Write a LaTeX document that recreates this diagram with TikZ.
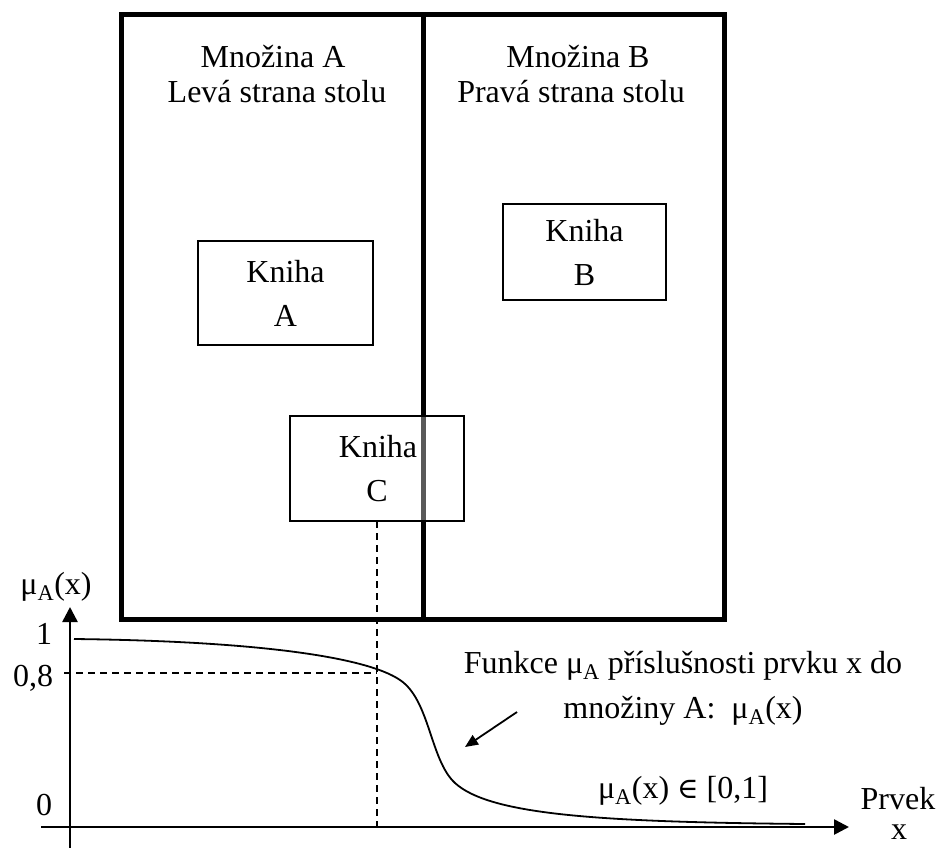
\documentclass[tikz,border=0pt]{standalone}
\usepackage{fontspec}
\setmainfont{Liberation Serif}
\newfontfamily\symbolfont{DejaVu Serif}
\usetikzlibrary{arrows.meta}
\newcommand\muA{μ\textsubscript{A}}
\begin{document}
\begin{tikzpicture}[x=1pt,y=-1pt,
  every node/.style={inner sep=0pt, outer sep=0pt},
  txt/.style={font=\fontsize{32}{44}\selectfont, align=center},
  frameline/.style={line width=5pt},
  bookbox/.style={draw, line width=1.3pt, txt},
  axis/.style={line width=2.6pt, -{Triangle[length=15pt,width=15pt]}},
  guide/.style={line width=1.8pt, dash pattern=on 7pt off 5pt},
  curve/.style={line width=1.8pt},
  pointer/.style={line width=1.8pt, -{Triangle[length=13pt,width=11pt]}}]
\useasboundingbox (0,0) rectangle (943,847);

% table: two halves
\draw[frameline] (121,14) rectangle (724,619);
\draw[frameline] (423,14) -- (423,619);

\node[txt, anchor=base] (setA)  at (273,67)  {Množina A};
\node[txt, anchor=base] (sideA) at (277,102) {Levá strana stolu};
\node[txt, anchor=base] (setB)  at (578,67)  {Množina B};
\node[txt, anchor=base] (sideB) at (571,102) {Pravá strana stolu};

% books
\node[bookbox, minimum width=175pt, minimum height=104pt] (ka) at (285.5,293) {Kniha\\A};
\node[bookbox, minimum width=163pt, minimum height=96pt]  (kb) at (584.5,252) {Kniha\\B};
\node[bookbox, minimum width=174pt, minimum height=105pt,
      fill=white, fill opacity=0.35, text opacity=1] (kc) at (377,468.5) {\hspace*{2pt}Kniha\\C};

% axes
\coordinate (yfoot) at (70,850);
\coordinate (ytip)  at (70,607);
\coordinate (xfoot) at (41,827);
\coordinate (xtip)  at (849,827);
\draw[axis] (yfoot) -- (ytip);
\draw[axis] (xfoot) -- (xtip);

\node[txt, anchor=base] (ylab) at (56,594) {\muA(x)};
\node[txt, anchor=base] (one)  at (44,644) {1};
\node[txt, anchor=base] (p08)  at (33,686) {0,8};
\node[txt, anchor=base] (zero) at (44,815) {0};
\node[txt, anchor=base] (prvek) at (898,809) {Prvek};
\node[txt, anchor=base] (xlab)  at (899,839) {x};

% membership function
\draw[curve] (74,639) .. controls (250,641) and (365,656) .. (400,680)
  .. controls (430,700) and (430,760) .. (455,783)
  .. controls (490,815) and (600,822) .. (805,824);

% value of book C
\coordinate (cx) at (kc.south |- xfoot);
\coordinate (c08) at (kc.south |- 0,673);
\coordinate (y08) at (64,673);
\draw[guide] (kc.south) -- (cx);
\draw[guide] (y08) -- (c08);

% description
\node[txt, anchor=base] (desc1) at (683,673) {Funkce \muA{} příslušnosti prvku x do};
\node[txt, anchor=base] (desc2) at (683,718) {množiny A:~ \muA(x)};
\coordinate (pstart) at (517,712);
\coordinate (pend)   at (465,747);
\draw[pointer] (pstart) -- (pend);
\node[txt, anchor=base] (range) at (683,798) {\muA(x) {\symbolfont\fontsize{29}{40}\selectfont ∈} [0,1]};
\end{tikzpicture}
\end{document}
